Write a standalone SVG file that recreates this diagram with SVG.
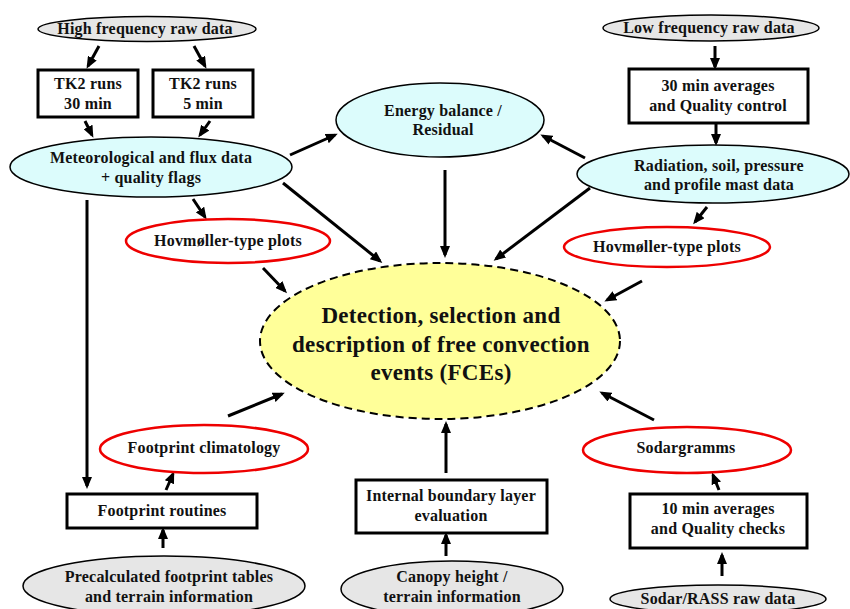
<svg xmlns="http://www.w3.org/2000/svg" width="850" height="609" viewBox="0 0 850 609">
<defs>
<marker id="ah" markerUnits="userSpaceOnUse" markerWidth="12" markerHeight="10" refX="9" refY="5" orient="auto">
<path d="M0,0 L12,5 L0,10 z" fill="#000"/>
</marker>
<style>
text{font-family:"Liberation Serif","Times New Roman",serif;font-weight:bold;font-size:16px;fill:#111;text-anchor:middle;letter-spacing:0.2px}
.big{font-size:23px;letter-spacing:0.3px}
.raw{fill:#e6e6e6;stroke:#000;stroke-width:1.5}
.cyan{fill:#dcfcfc;stroke:#000;stroke-width:1.5}
.red{fill:#fff;stroke:#e00;stroke-width:2.5}
.box{fill:#fff;stroke:#000;stroke-width:3}
.fce{fill:#ffff99;stroke:#000;stroke-width:2;stroke-dasharray:8,5}
.c line{stroke:#000;stroke-width:3;marker-end:url(#ah)}
</style>
</defs>
<rect width="850" height="609" fill="#fff"/>

<g id="connectors" class="c">
<line x1="99" y1="46" x2="88" y2="66"/>
<line x1="194" y1="46" x2="205" y2="66"/>
<line x1="85" y1="121" x2="92" y2="135"/>
<line x1="210" y1="121" x2="200" y2="135"/>
<line x1="290" y1="155" x2="335" y2="135"/>
<line x1="585" y1="158" x2="543" y2="136"/>
<line x1="445" y1="170" x2="445" y2="255"/>
<line x1="283" y1="183" x2="380" y2="261"/>
<line x1="590" y1="188" x2="496" y2="259"/>
<line x1="715" y1="46" x2="715" y2="67"/>
<line x1="716" y1="124" x2="716" y2="143"/>
<line x1="707" y1="207" x2="695" y2="222"/>
<line x1="642" y1="281" x2="607" y2="300"/>
<line x1="193" y1="199" x2="205" y2="217"/>
<line x1="263" y1="268" x2="285" y2="291"/>
<line x1="87" y1="200" x2="87" y2="486"/>
<line x1="228" y1="416" x2="282" y2="394"/>
<line x1="166" y1="490" x2="173" y2="474"/>
<line x1="163" y1="548" x2="163" y2="530"/>
<line x1="446" y1="473" x2="446" y2="424"/>
<line x1="446" y1="556" x2="446" y2="535"/>
<line x1="654" y1="420" x2="602" y2="393"/>
<line x1="719" y1="490" x2="713" y2="475"/>
<line x1="722" y1="576" x2="722" y2="555"/>
</g>

<g id="hf-raw"><ellipse class="raw" cx="147" cy="29" rx="109" ry="12.5"/><text x="145" y="34">High frequency raw data</text></g>
<g id="tk2-30"><rect class="box" x="38" y="70" width="100" height="47"/><text x="88" y="89">TK2 runs</text><text x="88" y="109">30 min</text></g>
<g id="tk2-5"><rect class="box" x="153" y="70" width="100" height="47"/><text x="203" y="89">TK2 runs</text><text x="203" y="109">5 min</text></g>
<g id="met"><ellipse class="cyan" cx="151" cy="167" rx="141" ry="30"/><text x="151" y="163">Meteorological and flux data</text><text x="151" y="183">+ quality flags</text></g>
<g id="energy"><ellipse class="cyan" cx="440" cy="120" rx="104" ry="37"/><text x="443" y="116">Energy balance /</text><text x="443" y="135">Residual</text></g>
<g id="lf-raw"><ellipse class="raw" cx="711" cy="28" rx="108" ry="13"/><text x="709" y="33">Low frequency raw data</text></g>
<g id="avg30"><rect class="box" x="629" y="69" width="179" height="54"/><text x="718" y="91">30 min averages</text><text x="718" y="111">and Quality control</text></g>
<g id="radiation"><ellipse class="cyan" cx="713" cy="174" rx="136" ry="29"/><text x="719" y="171">Radiation, soil, pressure</text><text x="719" y="190">and profile mast data</text></g>
<g id="hov-right"><ellipse class="red" cx="667" cy="247" rx="103" ry="20"/><text x="667" y="252">Hovmøller-type plots</text></g>
<g id="hov-left"><ellipse class="red" cx="228" cy="241" rx="102" ry="22"/><text x="228" y="246">Hovmøller-type plots</text></g>
<g id="fce"><ellipse class="fce" cx="440" cy="341" rx="180" ry="78"/><text class="big" x="441" y="323">Detection, selection and</text><text class="big" x="441" y="352">description of free convection</text><text class="big" x="441" y="380">events (FCEs)</text></g>
<g id="fp-clim"><ellipse class="red" cx="204" cy="449" rx="104" ry="24"/><text x="204" y="453">Footprint climatology</text></g>
<g id="fp-routines"><rect class="box" x="67" y="494" width="190" height="34"/><text x="162" y="516">Footprint routines</text></g>
<g id="precalc"><ellipse class="raw" cx="164" cy="586" rx="141" ry="30"/><text x="169" y="582">Precalculated footprint tables</text><text x="169" y="602">and terrain information</text></g>
<g id="ibl"><rect class="box" x="356" y="480" width="191" height="53"/><text x="451" y="501">Internal boundary layer</text><text x="451" y="521">evaluation</text></g>
<g id="canopy"><ellipse class="raw" cx="452" cy="589" rx="111" ry="28"/><text x="452" y="582">Canopy height /</text><text x="452" y="602">terrain information</text></g>
<g id="sodargramms"><ellipse class="red" cx="687" cy="450" rx="104" ry="23"/><text x="686" y="453">Sodargramms</text></g>
<g id="avg10"><rect class="box" x="630" y="494" width="177" height="54"/><text x="718" y="514">10 min averages</text><text x="718" y="534">and Quality checks</text></g>
<g id="sodar-raw"><ellipse class="raw" cx="718" cy="599" rx="108" ry="14"/><text x="718" y="604">Sodar/RASS raw data</text></g>
</svg>
